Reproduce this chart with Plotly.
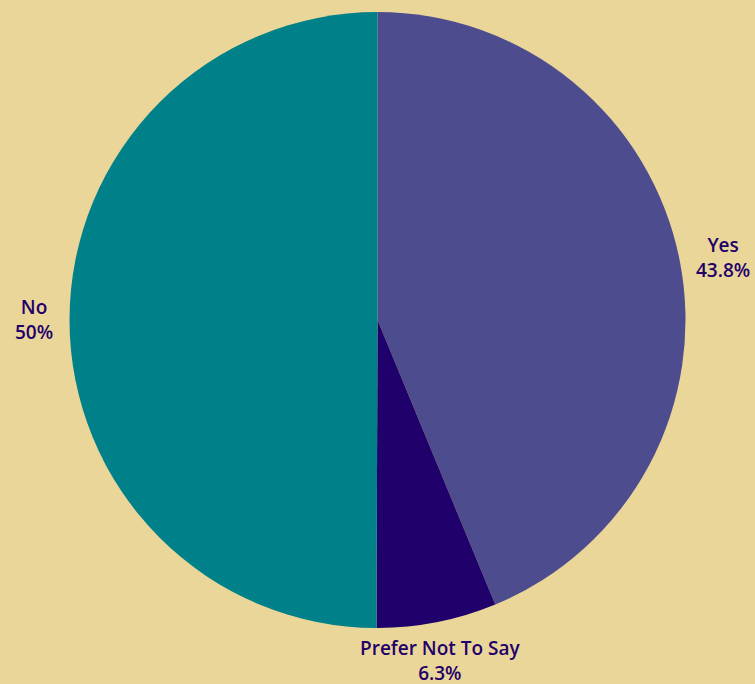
import math
import plotly.graph_objects as go

labels = ["Yes", "Prefer Not To Say", "No"]
values = [43.8, 6.3, 50]
colors = ["#4c4c8f", "#20006a", "#008088"]

W, H = 755, 684
MARGIN = dict(l=0, r=0, t=12, b=56)
TEXT_COLOR = "#22006a"
FONT = dict(family="Open Sans", size=19, color=TEXT_COLOR, weight=600)

fig = go.Figure(go.Pie(
    labels=labels,
    values=values,
    sort=False,
    direction="clockwise",
    rotation=0,
    marker=dict(colors=colors, line=dict(width=0)),
    textinfo="none",
    showlegend=False,
    automargin=False,
    hoverinfo="label+percent",
))

# outside labels, positioned from the slice angles (derived from the values)
plot_w = W - MARGIN["l"] - MARGIN["r"]
plot_h = H - MARGIN["t"] - MARGIN["b"]
radius_px = min(plot_w, plot_h) / 2
gap = 11
total = sum(values)
cum = 0
for lab, val in zip(labels, values):
    theta = 2 * math.pi * (cum + val / 2) / total
    cum += val
    s, c = math.sin(theta), math.cos(theta)
    x = 0.5 + radius_px * s / plot_w
    y = 0.5 + radius_px * c / plot_h
    if abs(c) > 0.7:
        xa, ya = "center", ("bottom" if c > 0 else "top")
    else:
        xa, ya = ("left" if s > 0 else "right"), "middle"
    fig.add_annotation(
        x=x, y=y, xref="paper", yref="paper",
        xshift=(gap + 4) * s, yshift=gap * c,
        xanchor=xa, yanchor=ya, align="center",
        text=f"{lab}<br>{val:g}%",
        showarrow=False, font=FONT,
    )

fig.update_layout(
    width=W, height=H,
    paper_bgcolor="#ebd699",
    plot_bgcolor="#ebd699",
    margin=dict(**MARGIN, autoexpand=False),
)
fig.write_html(
    "out.html",
    config={"displayModeBar": False},
    post_script="document.body.style.margin='0';document.body.style.background='#ebd699';",
)
